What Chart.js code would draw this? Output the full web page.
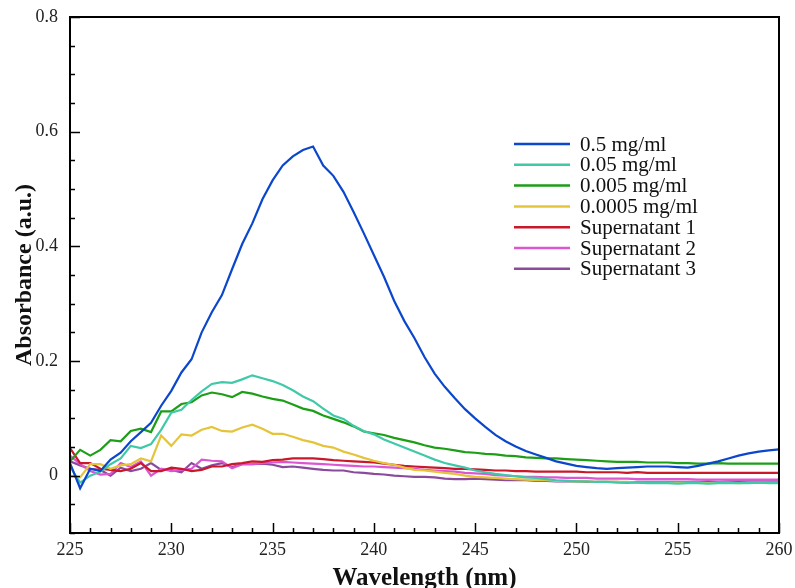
<!DOCTYPE html>
<html>
<head>
<meta charset="utf-8">
<script src="https://cdn.jsdelivr.net/npm/chart.js@4.4.1/dist/chart.umd.min.js"></script>
<style>
  html, body { margin: 0; padding: 0; background: #fff; }
  #wrap { width: 795px; height: 588px; }
</style>
</head>
<body>
<div id="wrap"><canvas id="absChart" width="795" height="588"></canvas></div>
<script>
// Wavelength grid (nm)
const wavelength = [
  225, 225.5, 226, 226.5, 227, 227.5, 228, 228.5, 229, 229.5,
  230, 230.5, 231, 231.5, 232, 232.5, 233, 233.5, 234, 234.5,
  235, 235.5, 236, 236.5, 237, 237.5, 238, 238.5, 239, 239.5,
  240, 240.5, 241, 241.5, 242, 242.5, 243, 243.5, 244, 244.5,
  245, 245.5, 246, 246.5, 247, 247.5, 248, 248.5, 249, 249.5,
  250, 250.5, 251, 251.5, 252, 252.5, 253, 253.5, 254, 254.5,
  255, 255.5, 256, 256.5, 257, 257.5, 258, 258.5, 259, 259.5,
  260
];

const conc05 = [
  0.022, -0.022, 0.012, 0.008, 0.028, 0.040, 0.060, 0.076, 0.092, 0.122,
  0.148, 0.180, 0.203, 0.250, 0.285, 0.315, 0.360, 0.404, 0.440, 0.482,
  0.515, 0.541, 0.557, 0.568, 0.574, 0.541, 0.523, 0.495, 0.460, 0.423,
  0.385, 0.347, 0.305, 0.270, 0.240, 0.207, 0.178, 0.155, 0.135, 0.116,
  0.100, 0.085, 0.071, 0.060, 0.051, 0.043, 0.037, 0.031, 0.025, 0.021,
  0.017, 0.015, 0.013, 0.012, 0.013, 0.014, 0.015, 0.016, 0.016, 0.016,
  0.015, 0.014, 0.017, 0.021, 0.025, 0.030, 0.035, 0.039, 0.042, 0.044,
  0.046
];

const conc005 = [
  0.016, -0.012, 0.000, 0.007, 0.020, 0.030, 0.052, 0.048, 0.055, 0.080,
  0.110, 0.115, 0.132, 0.147, 0.160, 0.163, 0.162, 0.168, 0.175, 0.170,
  0.165, 0.158, 0.149, 0.138, 0.130, 0.117, 0.105, 0.099, 0.087, 0.078,
  0.072, 0.063, 0.056, 0.049, 0.042, 0.035, 0.028, 0.022, 0.018, 0.014,
  0.009, 0.006, 0.003, 0.001, -0.001, -0.003, -0.004, -0.006, -0.008, -0.009,
  -0.010, -0.010, -0.011, -0.011, -0.012, -0.012, -0.012, -0.013, -0.013, -0.013,
  -0.014, -0.013, -0.013, -0.014, -0.013, -0.013, -0.013, -0.013, -0.012, -0.013,
  -0.013
];

const conc0005 = [
  0.025, 0.045, 0.035, 0.045, 0.062, 0.060, 0.078, 0.082, 0.076, 0.112,
  0.112, 0.125, 0.128, 0.140, 0.145, 0.142, 0.137, 0.146, 0.143, 0.138,
  0.134, 0.131, 0.124, 0.117, 0.113, 0.105, 0.099, 0.093, 0.086, 0.077,
  0.074, 0.071, 0.066, 0.062, 0.058, 0.053, 0.049, 0.047, 0.044, 0.041,
  0.040, 0.038, 0.037, 0.035, 0.034, 0.032, 0.031, 0.030, 0.030, 0.029,
  0.028, 0.027, 0.026, 0.025, 0.024, 0.024, 0.024, 0.023, 0.023, 0.023,
  0.022, 0.022, 0.021, 0.021, 0.022, 0.021, 0.021, 0.021, 0.021, 0.021,
  0.021
];

const conc00005 = [
  0.000, -0.003, 0.020, 0.020, 0.012, 0.018, 0.020, 0.030, 0.025, 0.070,
  0.052, 0.072, 0.070, 0.080, 0.085, 0.078, 0.077, 0.084, 0.089, 0.082,
  0.073, 0.073, 0.068, 0.062, 0.058, 0.052, 0.049, 0.042, 0.037, 0.031,
  0.026, 0.022, 0.019, 0.014, 0.010, 0.009, 0.007, 0.005, 0.003, 0.000,
  -0.002, -0.003, -0.004, -0.005, -0.006, -0.007, -0.008, -0.008, -0.009, -0.009,
  -0.010, -0.010, -0.011, -0.011, -0.011, -0.011, -0.012, -0.012, -0.012, -0.012,
  -0.012, -0.012, -0.012, -0.013, -0.012, -0.012, -0.013, -0.012, -0.012, -0.012,
  -0.012
];

const super1 = [
  0.048, 0.022, 0.022, 0.012, 0.010, 0.008, 0.012, 0.022, 0.008, 0.008,
  0.014, 0.012, 0.008, 0.010, 0.016, 0.016, 0.020, 0.022, 0.025, 0.024,
  0.027, 0.028, 0.030, 0.030, 0.030, 0.029, 0.027, 0.026, 0.025, 0.024,
  0.023, 0.021, 0.019, 0.017, 0.016, 0.015, 0.014, 0.013, 0.012, 0.012,
  0.011, 0.010, 0.009, 0.009, 0.008, 0.008, 0.007, 0.007, 0.007, 0.007,
  0.007, 0.006, 0.006, 0.006, 0.006, 0.005, 0.006, 0.005, 0.005, 0.005,
  0.005, 0.005, 0.005, 0.005, 0.005, 0.005, 0.005, 0.005, 0.005, 0.005,
  0.005
];

const super2 = [
  0.035, 0.020, 0.008, 0.002, 0.003, 0.022, 0.015, 0.025, 0.000, 0.012,
  0.008, 0.010, 0.012, 0.028, 0.026, 0.025, 0.013, 0.020, 0.020, 0.022,
  0.023, 0.024, 0.023, 0.022, 0.021, 0.020, 0.019, 0.018, 0.017, 0.016,
  0.016, 0.015, 0.014, 0.013, 0.012, 0.010, 0.009, 0.008, 0.007, 0.005,
  0.004, 0.003, 0.001, 0.000, -0.001, -0.002, -0.002, -0.003, -0.003, -0.004,
  -0.004, -0.004, -0.005, -0.005, -0.005, -0.005, -0.006, -0.006, -0.006, -0.006,
  -0.006, -0.006, -0.007, -0.007, -0.007, -0.007, -0.007, -0.007, -0.007, -0.007,
  -0.007
];

const super3 = [
  0.025, 0.018, 0.012, 0.010, 0.000, 0.014, 0.008, 0.012, 0.022, 0.010,
  0.010, 0.006, 0.022, 0.012, 0.018, 0.022, 0.015, 0.020, 0.020, 0.021,
  0.019, 0.015, 0.016, 0.014, 0.012, 0.010, 0.009, 0.009, 0.006, 0.005,
  0.003, 0.002, 0.000, -0.001, -0.002, -0.002, -0.003, -0.005, -0.006, -0.006,
  -0.005, -0.006, -0.007, -0.008, -0.008, -0.008, -0.009, -0.009, -0.010, -0.010,
  -0.010, -0.011, -0.011, -0.011, -0.011, -0.012, -0.011, -0.011, -0.011, -0.011,
  -0.011, -0.011, -0.011, -0.010, -0.011, -0.010, -0.010, -0.010, -0.010, -0.010,
  -0.010
];

const seriesNames = ['0.5 mg/ml', '0.05 mg/ml', '0.005 mg/ml', '0.0005 mg/ml',
                     'Supernatant 1', 'Supernatant 2', 'Supernatant 3'];
const seriesData = [conc05, conc005, conc0005, conc00005, super1, super2, super3];
const seriesColors = ['#0a47cc', '#40c9a8', '#1d9e17', '#e6c43a', '#c8182a', '#dc55d2', '#8a4b9c'];

const xTicks = [225, 230, 235, 240, 245, 250, 255, 260];
const yTicks = [0, 0.2, 0.4, 0.6, 0.8];

const SERIF = '"Liberation Serif", "Times New Roman", serif';

// frame, inward ticks, labels, titles and legend
const framePlugin = {
  id: 'frame',
  afterDraw(chart) {
    const { ctx, chartArea: a, scales: { x, y } } = chart;
    ctx.save();
    ctx.strokeStyle = '#000';
    ctx.lineWidth = 2;
    ctx.strokeRect(a.left, a.top, a.right - a.left, a.bottom - a.top);

    ctx.lineWidth = 1.5;
    ctx.beginPath();
    // minor ticks on x every 1 nm
    for (let w = 225; w <= 260; w++) {
      const px = Math.round(x.getPixelForValue(w)) + 0.5;
      const len = (w % 5 === 0) ? 10 : 5;
      ctx.moveTo(px, a.bottom);
      ctx.lineTo(px, a.bottom - len);
    }
    // y ticks every 0.05
    for (let k = -2; k <= 16; k++) {
      const v = k * 0.05;
      const py = Math.round(y.getPixelForValue(v)) + 0.5;
      const len = (k % 4 === 0) ? 10 : 5;
      ctx.moveTo(a.left, py);
      ctx.lineTo(a.left + len, py);
    }
    ctx.stroke();

    ctx.fillStyle = '#222';
    ctx.font = '18px ' + SERIF;
    ctx.textAlign = 'center';
    ctx.textBaseline = 'top';
    xTicks.forEach(w => ctx.fillText(String(w), x.getPixelForValue(w), a.bottom + 8));
    ctx.textAlign = 'right';
    ctx.textBaseline = 'middle';
    yTicks.forEach(v => ctx.fillText(v === 0 ? '0' : v.toFixed(1), a.left - 12, y.getPixelForValue(v)));

    ctx.fillStyle = '#111';
    ctx.font = 'bold 25px ' + SERIF;
    ctx.textAlign = 'center';
    ctx.textBaseline = 'alphabetic';
    ctx.fillText('Wavelength (nm)', (a.left + a.right) / 2, 585);
    ctx.save();
    ctx.translate(31, (a.top + a.bottom) / 2);
    ctx.rotate(-Math.PI / 2);
    ctx.font = 'bold 24px ' + SERIF;
    ctx.fillText('Absorbance (a.u.)', 0, 0);
    ctx.restore();

    // legend
    ctx.font = '21px ' + SERIF;
    ctx.textAlign = 'left';
    ctx.textBaseline = 'middle';
    chart.data.datasets.forEach((ds, i) => {
      const ly = 144 + i * 20.8;
      ctx.strokeStyle = ds.borderColor;
      ctx.lineWidth = 2.5;
      ctx.beginPath();
      ctx.moveTo(514, ly);
      ctx.lineTo(570, ly);
      ctx.stroke();
      ctx.fillStyle = '#111';
      ctx.fillText(ds.label, 580, ly + 1);
    });
    ctx.restore();
  }
};

new Chart(document.getElementById('absChart'), {
  type: 'line',
  data: {
    datasets: seriesData.map((vals, i) => ({
      label: seriesNames[i],
      data: wavelength.map((w, j) => ({ x: w, y: vals[j] })),
      borderColor: seriesColors[i],
      borderWidth: 2.2,
      pointRadius: 0,
      tension: 0,
      fill: false
    }))
  },
  options: {
    responsive: false,
    animation: false,
    events: [],
    layout: { padding: { left: 70, right: 16, top: 17, bottom: 55 } },
    plugins: { legend: { display: false }, tooltip: { enabled: false } },
    scales: {
      x: { type: 'linear', min: 225, max: 260, display: false },
      y: { type: 'linear', min: -0.1, max: 0.8, display: false }
    }
  },
  plugins: [framePlugin]
});
</script>
</body>
</html>
